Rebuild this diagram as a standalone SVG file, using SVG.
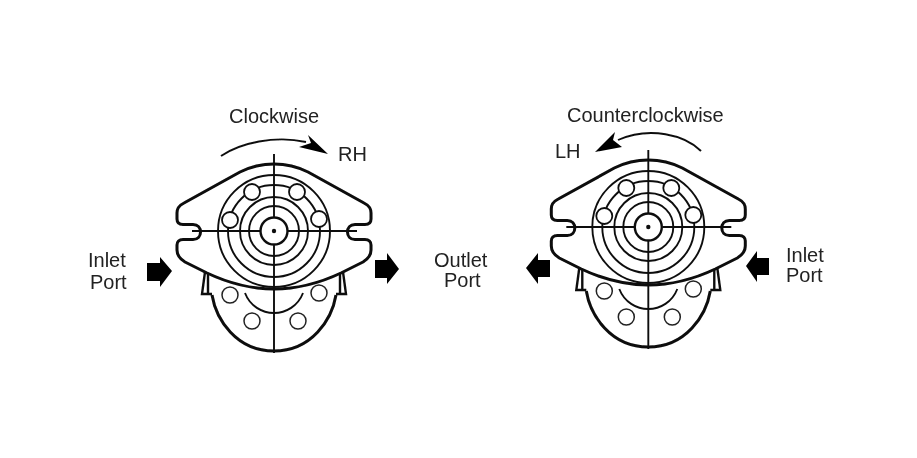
<svg xmlns="http://www.w3.org/2000/svg" width="917" height="458" viewBox="0 0 917 458">
<style>
.l{fill:none;stroke:#111;stroke-width:1.9}
.i{stroke-width:2.400}
.t{fill:none;stroke:#0a0a0a;stroke-width:3;stroke-linejoin:round}
.f{fill:#fff}
.b{fill:#fff;stroke:#111;stroke-width:1.8}
.h{fill:#fff;stroke:#222;stroke-width:1.5}
.a{fill:#000;stroke:none}
text{font-family:"Liberation Sans",Arial,sans-serif;font-size:20px;fill:#222}
</style>
<defs>
<filter id="s" x="-5%" y="-5%" width="110%" height="110%"><feGaussianBlur stdDeviation="0.6"/></filter>
<g id="pump">
<path class="t" d="M-62 64C-58 88 -38 120 0 120C38 120 58 88 62 64"/>
<path class="l i" d="M-69 41L-72 63L-62 63M69 41L72 63L62 63M-66 41L-66 62M66 41L66 62"/>
<path class="l" d="M-29 62C-24 75 -12 82 0 82C12 82 24 75 29 62"/>
<circle class="h" cx="-44" cy="64" r="8"/><circle class="h" cx="-22" cy="90" r="8"/><circle class="h" cx="24" cy="90" r="8"/><circle class="h" cx="45" cy="62" r="8"/>
<path class="t f" d="M0 -67C-14 -67 -26 -63 -34 -59L-90 -28C-96 -25 -97 -22 -97 -18L-97 -12C-97 -8 -95 -6.500 -91 -6.500L-81 -6.500C-76 -6.500 -73.500 -3 -73.500 1C-73.500 5 -76 8.500 -81 8.500L-91 8.500C-95 8.500 -97 11 -97 14L-97 19C-97 24 -94 28 -89 31L-67 42C-50 50 -25 58 0 58C25 58 50 50 67 42L89 31C94 28 97 24 97 19L97 14C97 11 95 8.500 91 8.500L81 8.500C76 8.500 73.500 5 73.500 1C73.500 -3 76 -6.500 81 -6.500L91 -6.500C95 -6.500 97 -8 97 -12L97 -18C97 -22 96 -25 90 -28L34 -59C26 -63 14 -67 0 -67Z"/>
<circle class="l" r="56"/><circle class="l" r="46"/><circle class="l" r="34"/><circle class="l" r="25"/><circle class="l i" r="13.500"/>
<circle class="b" cx="-22" cy="-39" r="8"/><circle class="b" cx="23" cy="-39" r="8"/><circle class="b" cx="-44" cy="-11" r="8"/><circle class="b" cx="45" cy="-12" r="8"/>
<path class="l" d="M0 -77V-14M0 14V122M-82 0H-14M14 0H83"/>
<circle r="2.200" fill="#111"/>
</g>
</defs>
<rect width="917" height="458" fill="#fff"/>
<g filter="url(#s)">
<g id="pump-rh"><use href="#pump" x="274" y="231"/></g>
<g id="pump-lh"><use href="#pump" x="648.300" y="227"/></g>
<g id="connectors">
<path class="l" d="M221 156C240 143 275 135 306 142"/>
<path class="a" d="M328 154L308 135L311 143L299 147Z"/>
<path class="l" d="M701 151C685 135 650 126 618 140"/>
<path class="a" d="M595 152L615 132L613 140L622 147Z"/>
<path id="arrow-inlet-rh" class="a" d="M147 263H160V257L172 271L160 287V281H147Z"/>
<path id="arrow-outlet-rh" class="a" d="M375 260H387V253L399 269L387 284V278H375Z"/>
<path id="arrow-outlet-lh" class="a" d="M526 268L538 253V260H550V277H538V284Z"/>
<path id="arrow-inlet-lh" class="a" d="M746 266L757 251V258H769V275H757V282Z"/>
</g>
<g id="labels">
<text x="229" y="123">Clockwise</text>
<text x="338" y="161">RH</text>
<text x="567" y="122">Counterclockwise</text>
<text x="555" y="158">LH</text>
<text x="88" y="267">Inlet</text><text x="90" y="289">Port</text>
<text x="434" y="267">Outlet</text><text x="444" y="287">Port</text>
<text x="786" y="262">Inlet</text><text x="786" y="282">Port</text>
</g>
</g>
</svg>
